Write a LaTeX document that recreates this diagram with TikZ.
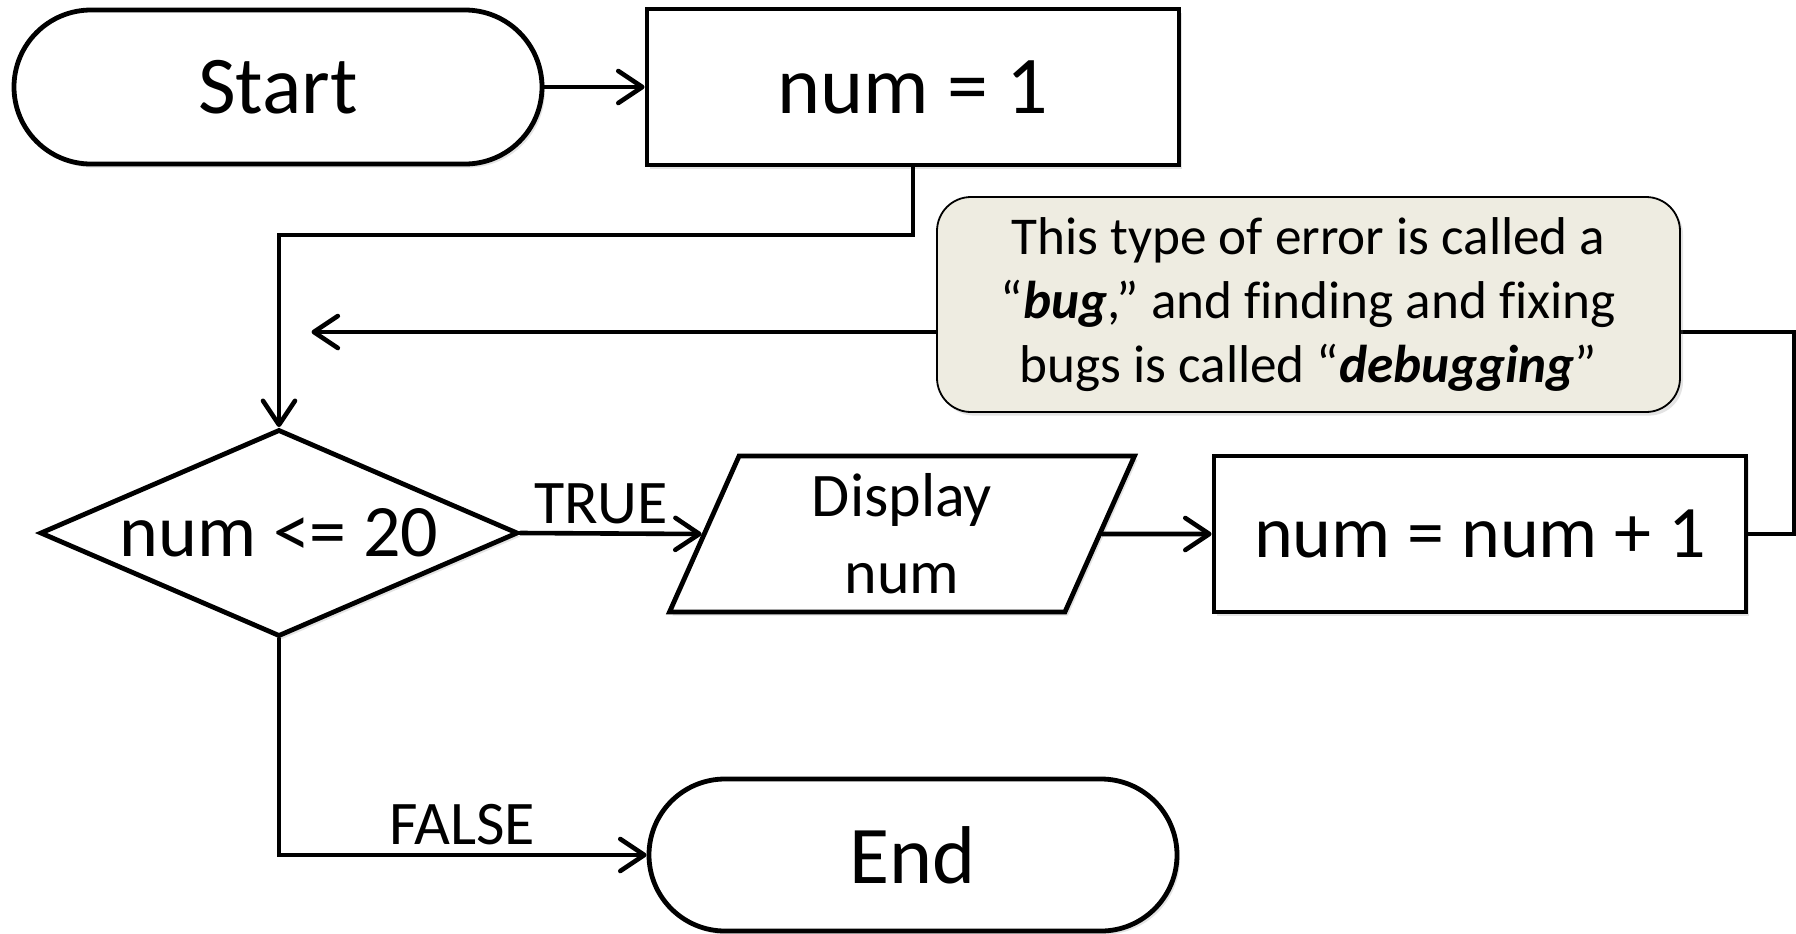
\documentclass[tikz,border=0pt]{standalone}
\usepackage{fontspec}
\setmainfont{Carlito}[Ligatures=NoCommon]
\usetikzlibrary{shapes.geometric,shapes.misc,arrows.meta,shadows}
\definecolor{calloutfill}{HTML}{EEECE1}
\newcommand{\bigtxt}{\fontsize{41}{49}\selectfont}
\newcommand{\midtxt}{\fontsize{37}{44}\selectfont}
\newcommand{\smalltxt}{\fontsize{31}{38.5}\selectfont}
\newcommand{\notetxt}{\fontsize{26.6}{32}\selectfont}
\begin{document}
\begin{tikzpicture}[x=0.5pt,y=-0.5pt,
  shapeline/.style={draw=black, line width=2.4pt, fill=white,
    drop shadow={opacity=0.22, shadow xshift=1.5pt, shadow yshift=-1.8pt}},
  terminal/.style={shapeline, rounded rectangle, inner sep=0pt,
    minimum width=264pt, minimum height=77pt, font=\bigtxt},
  procbox/.style={shapeline, rectangle, inner sep=0pt,
    minimum width=266pt, minimum height=78pt},
  decision/.style={shapeline, diamond, aspect=2.31, inner sep=0pt,
    minimum width=239pt, minimum height=103.5pt, font=\midtxt},
  iobox/.style={shapeline, trapezium, trapezium left angle=60,
    trapezium right angle=120, trapezium stretches body=true, inner sep=0pt,
    minimum width=232.5pt, minimum height=78pt, align=center, font=\smalltxt},
  notebox/.style={draw=black, line width=0.9pt, fill=calloutfill,
    rounded corners=17pt, minimum width=371.5pt, minimum height=107.5pt,
    inner sep=0pt, align=center, font=\notetxt,
    drop shadow={opacity=0.22, shadow xshift=1.5pt, shadow yshift=-1.8pt}},
  lbl/.style={inner sep=0pt, font=\smalltxt},
  conn/.style={line width=2.3pt, line cap=round,
    -{Straight Barb[length=12pt,width=16pt,round]}},
  plain/.style={line width=2.3pt}
]
\useasboundingbox (0,0) rectangle (1796,933);

\node[terminal] (start) at (278,87) {Start};
\node[procbox, font=\bigtxt] (init) at (913,87) {num = 1};
\node[decision] (test) at (279,533) {num <= 20};
\node[iobox] (disp) at (902,534) {Display\\num};
\node[procbox, font=\midtxt] (incr) at (1480,534) {num = num + 1};
\node[terminal, minimum height=76pt] (end) at (913,855) {End};

\coordinate (looptip) at (311.5,332);

\draw[conn] (start.east) -- (init.west);
\draw[conn] (init.south) -- ++(0,67.5) -| (test.north);
\draw[conn] (test.east) -- (disp.west);
\node[lbl] (truelbl) at (601,504) {TRUE};
\draw[conn] (disp.east) -- (incr.west);
\draw[conn] (incr.east) -- ++(46,0) |- (looptip);
\draw[conn] (test.south) |- (end.west);
\node[lbl] (falselbl) at (462,825) {FALSE};

\node[notebox] (note) at (1308.5,304.5)
  {This type of error is called a\\
   “\textbf{\textit{bug}},” and finding and fixing\\
   bugs is called “\textbf{\textit{debugging}}”};
\end{tikzpicture}
\end{document}
